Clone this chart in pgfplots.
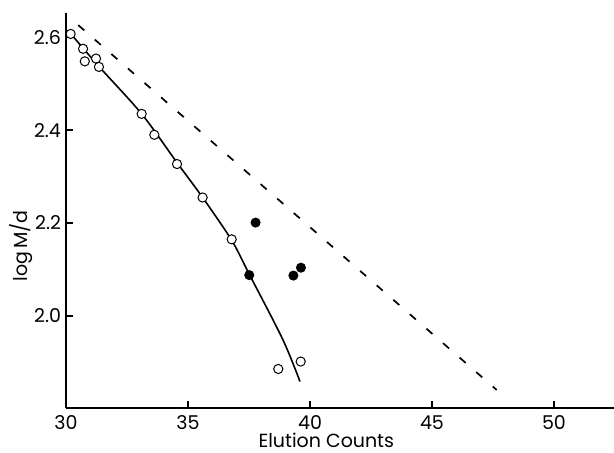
\documentclass[border=0pt]{standalone}
\usepackage{fontspec}
\setmainfont{Poppins}
\usepackage{pgfplots}
\pgfplotsset{compat=1.18}
\begin{document}
\begin{tikzpicture}
\useasboundingbox (-33pt,-22pt) rectangle (274pt,204pt);
\begin{axis}[
  scale only axis,
  width=274pt, height=197.5pt,
  xmin=30, xmax=52.46, ymin=1.802, ymax=2.652,
  axis lines*=left,
  axis line style={line width=0.7pt},
  xtick={30,35,40,45,50},
  ytick={2.0,2.2,2.4,2.6},
  tick align=inside,
  major tick length=3.5pt,
  tick style={line width=0.7pt, black},
  /pgf/number format/assume math mode=true,
  yticklabel style={/pgf/number format/fixed, /pgf/number format/fixed zerofill, /pgf/number format/precision=1, xshift=1pt},
  xticklabel style={anchor=base, yshift=-10.8pt},
  tick label style={font=\fontsize{9.5}{11}\selectfont},
  label style={font=\fontsize{9.5}{11}\selectfont},
  xlabel={Elution Counts},
  xlabel style={at={(axis description cs:0.475,0)}, anchor=base, yshift=-19.6pt},
  ylabel={log\,M/d},
  ylabel style={at={(axis description cs:0,0.41)}, anchor=south, yshift=13pt},
  clip=false,
]
% dashed reference line
\addplot[black, line width=0.85pt, dash pattern=on 4pt off 7pt] coordinates {(30.5,2.626) (47.65,1.841)};
% fitted curve
\addplot[black, line width=0.8pt, smooth] coordinates {
(30.2,2.607) (31.35,2.537) (33.1,2.435) (34.55,2.33) (35.6,2.255) (36.79,2.163) (37.51,2.09) (38.88,1.950) (39.59,1.859)};
% open circles
\addplot[only marks, mark=*, mark size=2.3pt, mark options={fill=white, draw=black, line width=0.5pt}] coordinates {
(30.19,2.607) (30.70,2.575) (30.77,2.548) (31.23,2.554) (31.35,2.536) (33.10,2.435) (33.62,2.39) (34.55,2.327) (35.60,2.255) (36.79,2.165) (38.70,1.886) (39.62,1.902)};
% filled circles
\addplot[only marks, mark=*, mark size=2.3pt, mark options={fill=black, draw=black}] coordinates {
(37.51,2.088) (37.77,2.201) (39.32,2.087) (39.63,2.104)};
\end{axis}
\end{tikzpicture}
\end{document}
